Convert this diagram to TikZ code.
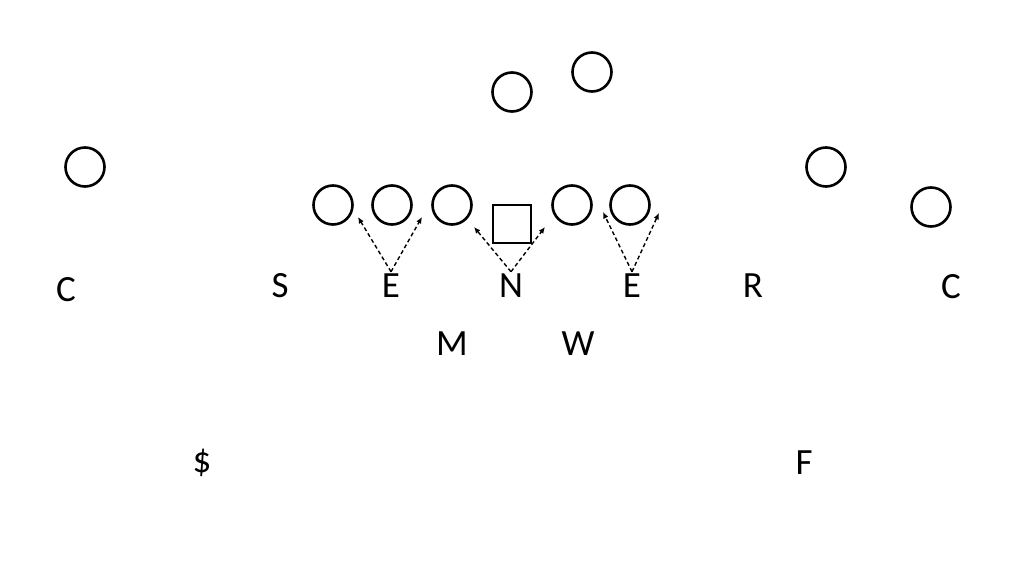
\documentclass[tikz,border=0pt]{standalone}
\usepackage{fontspec}
\setmainfont{Carlito}
\usetikzlibrary{arrows.meta}

\begin{document}
\begin{tikzpicture}[x=0.5pt,y=-0.5pt,>={Latex[length=3.2pt,width=2.8pt]},
		player/.style={draw,circle,line width=1.3pt,minimum size=19.5pt,inner sep=0pt},
		centre/.style={draw,rectangle,line width=1.3pt,minimum size=19pt,inner sep=0pt},
		def/.style={inner sep=1pt,font=\fontsize{18.5}{21}\selectfont},
		read/.style={->,line width=0.7pt,dash pattern=on 2pt off 1.4pt}]
		
		% Frame
		\useasboundingbox (0,0) rectangle (1024,573);
		
		% Offense: receivers and backs
		\node[player] (wl) at (85,167) {};
		\node[player] (qb) at (512,92) {};
		\node[player] (rb) at (592,72) {};
		\node[player] (sl) at (826,167) {};
		\node[player] (wr) at (931,207) {};
		
		% Offensive line
		\node[player] (lt) at (333,205) {};
		\node[player] (lg) at (392,205) {};
		\node[player] (lc) at (452,205) {};
		\node[centre] (ce) at (512,224) {};
		\node[player] (rg) at (572,205) {};
		\node[player] (rt) at (630,205) {};
		
		% Defense
		\node[def] (cl) at (66,290) {C};
		\node[def] (ss) at (280,286) {S};
		\node[def] (el) at (391,286) {E};
		\node[def] (nt) at (511,286) {N};
		\node[def] (er) at (632,286) {E};
		\node[def] (ro) at (753,286) {R};
		\node[def] (cr) at (951,287) {C};
		\node[def] (ml) at (452,344) {M};
		\node[def] (wi) at (578,344) {W};
		\node[def] (fs) at (202,463) {\$};
		\node[def] (fr) at (804,463) {F};
		
		% Gap reads of the front
		\coordinate (el1) at (358,217);
		\coordinate (el2) at (422,217);
		\coordinate (nt1) at (474,227);
		\coordinate (nt2) at (545,227);
		\coordinate (er1) at (603,212);
		\coordinate (er2) at (659,213);
		
		\draw[read] (el.north) -- (el1);
		\draw[read] (el.north) -- (el2);
		\draw[read] (nt.north) -- (nt1);
		\draw[read] (nt.north) -- (nt2);
		\draw[read] (er.north) -- (er1);
		\draw[read] (er.north) -- (er2);
		
	\end{tikzpicture}
\end{document}
